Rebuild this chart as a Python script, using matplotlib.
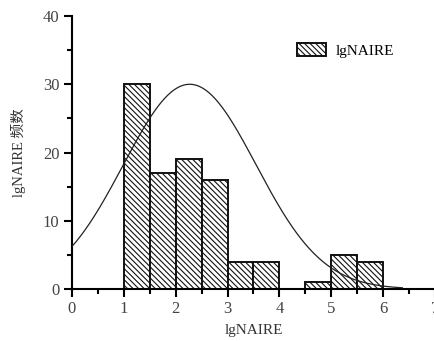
import numpy as np
import matplotlib
matplotlib.use("Agg")
import matplotlib.pyplot as plt

# histogram bins (left edges, width 0.5) and counts
bin_left = [1.0, 1.5, 2.0, 2.5, 3.0, 3.5, 4.5, 5.0, 5.5]
counts = [30, 17, 19, 16, 4, 4, 1, 5, 4]
bin_width = 0.5

# fitted normal curve
curve_mean = 2.27
curve_sd = 1.28
curve_peak = 30
curve_range = (0.0, 6.37)

xticks = [0, 1, 2, 3, 4, 5, 6, 7]
yticks = [0, 10, 20, 30, 40]

plt.rcParams['font.family'] = ['Liberation Serif', 'Noto Sans CJK SC']
plt.rcParams['hatch.linewidth'] = 0.8

fig = plt.figure(figsize=(4.35, 3.41), dpi=100)
ax = fig.add_axes([0.1655, 0.1525, 0.8345, 0.8005])

ax.bar(bin_left, counts, width=bin_width, align='edge', color='white',
       edgecolor='#111111', linewidth=1.4, hatch='\\\\\\\\\\\\', label='lgNAIRE', zorder=2)

xc = np.linspace(curve_range[0], curve_range[1], 300)
yc = curve_peak * np.exp(-(xc - curve_mean) ** 2 / (2 * curve_sd ** 2))
ax.plot(xc, yc, color='#222222', linewidth=0.9, zorder=3)

ax.set_xlim(0, 7)
ax.set_ylim(0, 40)
ax.set_xticks(xticks)
ax.set_yticks(yticks)
ax.set_xticks(np.arange(0.5, 7, 1.0), minor=True)
ax.set_yticks(np.arange(5, 40, 10), minor=True)
for s in ['top', 'right']:
    ax.spines[s].set_visible(False)
for s in ['left', 'bottom']:
    ax.spines[s].set_linewidth(1.5)
ax.tick_params(which='major', direction='out', length=6, width=1.5, labelsize=12,
               labelcolor='#444444', pad=3)
ax.tick_params(which='minor', direction='out', length=3.5, width=1.5)

ax.set_xlabel('lgNAIRE', fontsize=11, color='#333333', labelpad=5)
ax.set_ylabel('lgNAIRE 频数', fontsize=10.5, color='#333333', labelpad=12)

ax.legend(loc='upper left', bbox_to_anchor=(0.6, 0.93), frameon=False, fontsize=11,
          handlelength=1.9, handleheight=1.0, handletextpad=0.6, borderpad=0)

fig.savefig('out.png', dpi=100)
